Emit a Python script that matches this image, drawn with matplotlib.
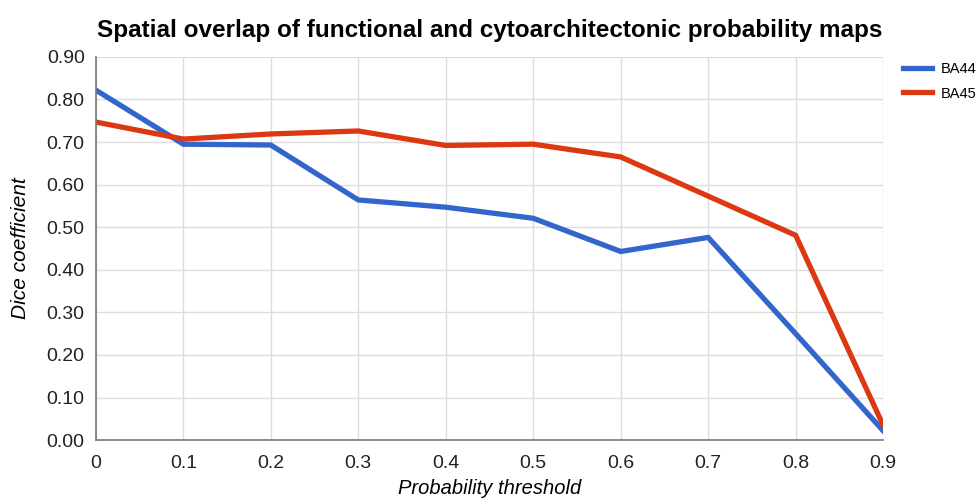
import matplotlib
matplotlib.use('Agg')
from matplotlib import pyplot as plt

thresholds = [0.0, 0.1, 0.2, 0.3, 0.4, 0.5, 0.6, 0.7, 0.8, 0.9]
ba44 = [0.822, 0.695, 0.693, 0.564, 0.547, 0.521, 0.443, 0.476, 0.250, 0.022]
ba45 = [0.747, 0.707, 0.719, 0.726, 0.692, 0.695, 0.665, 0.573, 0.481, 0.035]

x_tick_labels = ['0', '0.1', '0.2', '0.3', '0.4', '0.5', '0.6', '0.7', '0.8', '0.9']
y_ticks = [0.0, 0.1, 0.2, 0.3, 0.4, 0.5, 0.6, 0.7, 0.8, 0.9]

plt.rcParams['font.family'] = ['Liberation Sans', 'DejaVu Sans']

fig = plt.figure(figsize=(9.78, 4.99), dpi=100)
ax = fig.add_axes([0.098, 0.118, 0.805, 0.768])

ax.plot(thresholds, ba44, color='#3366CC', linewidth=3.8, label='BA44', solid_joinstyle='miter')
ax.plot(thresholds, ba45, color='#DC3912', linewidth=3.8, label='BA45', solid_joinstyle='miter')

ax.set_xlim(0, 0.9)
ax.set_ylim(0, 0.9)
ax.set_xticks(thresholds)
ax.set_xticklabels(x_tick_labels)
ax.set_yticks(y_ticks)
ax.set_yticklabels([f'{v:.2f}' for v in y_ticks])
ax.tick_params(length=0, labelsize=14, colors='#222222')
ax.tick_params(axis='x', pad=11)
ax.tick_params(axis='y', pad=8)

ax.grid(True, color='#dddddd', linewidth=1)
ax.set_axisbelow(True)
for lado in ['top', 'right']:
    ax.spines[lado].set_visible(False)
for lado in ['left', 'bottom']:
    ax.spines[lado].set_color('#777777')
    ax.spines[lado].set_linewidth(1.2)

ax.set_title('Spatial overlap of functional and cytoarchitectonic probability maps',
             fontsize=17.5, fontweight='bold', pad=14)
ax.set_xlabel('Probability threshold', fontsize=14.5, fontstyle='italic', labelpad=5)
ax.set_ylabel('Dice coefficient', fontsize=15, fontstyle='italic', labelpad=12)

ax.legend(loc='upper left', bbox_to_anchor=(1.008, 1.02), frameon=False,
          fontsize=10.5, handlelength=2.0, handletextpad=0.6, labelspacing=0.7)

plt.savefig('out.png', dpi=100)
